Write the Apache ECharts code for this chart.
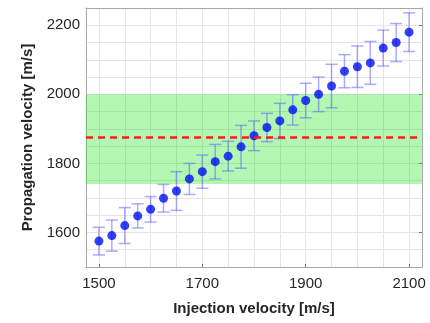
<!DOCTYPE html>
<html>
<head>
<meta charset="utf-8">
<script src="https://cdn.jsdelivr.net/npm/echarts@6/dist/echarts.min.js"></script>
<style>
  html, body { margin: 0; padding: 0; background: #fff; }
  #chart { width: 430px; height: 323px; }
</style>
</head>
<body>
<div id="chart"></div>
<script>
// Injection velocity (x) and measured propagation velocity (mean, half spread)
const injection = [1500, 1525, 1550, 1575, 1600, 1625, 1650, 1675, 1700, 1725, 1750, 1775, 1800,
                   1825, 1850, 1875, 1900, 1925, 1950, 1975, 2000, 2025, 2050, 2075, 2100];
const propagation = [1575, 1591, 1620, 1648, 1667, 1699, 1720, 1755, 1776, 1805, 1821, 1848, 1880,
                     1904, 1923, 1955, 1982, 2000, 2024, 2067, 2080, 2091, 2134, 2150, 2180];
const spread = [40, 45, 52, 35, 37, 40, 56, 45, 48, 50, 43, 62, 43,
                41, 51, 44, 50, 50, 63, 48, 60, 62, 52, 55, 56];

// Reference band and reference level
const bandLow = 1740;
const bandHigh = 2000;
const refLevel = 1875;

// Axis ranges and tick labels
const xRange = [1475, 2125];
const yRange = [1500, 2250];
const xLabels = [1500, 1700, 1900, 2100];
const xGrid = [1500, 1550, 1600, 1650, 1700, 1750, 1800, 1850, 1900, 1950, 2000, 2050, 2100];
const yLabels = [1600, 1800, 2000, 2200];

const points = injection.map((x, i) => [x, propagation[i]]);
const bars = injection.map((x, i) => [x, propagation[i] - spread[i], propagation[i] + spread[i]]);

const frameColor = '#a8a8a8';
const gridColor = '#e4e4e4';
const textColor = '#262626';
const font = 'Liberation Sans, Arial, sans-serif';

const chart = echarts.init(document.getElementById('chart'), null, { renderer: 'canvas' });

chart.setOption({
  animation: false,
  backgroundColor: '#fff',
  grid: { left: 86, right: 8, top: 8, bottom: 56, containLabel: false },
  xAxis: [
    {
      type: 'value', min: xRange[0], max: xRange[1],
      name: 'Injection velocity [m/s]', nameLocation: 'middle', nameGap: 34,
      nameTextStyle: { fontFamily: font, fontSize: 15, fontWeight: 'bold', color: textColor },
      axisLine: { show: true, onZero: false, lineStyle: { color: frameColor, width: 1 } },
      axisTick: { show: true, inside: true, length: 3, customValues: xLabels, lineStyle: { color: '#777' } },
      axisLabel: {
        customValues: xLabels, margin: 9, fontFamily: font, fontSize: 15, color: textColor,
        formatter: v => String(v)
      },
      splitLine: { show: false }
    },
    {
      type: 'value', min: xRange[0], max: xRange[1], position: 'top',
      axisLine: { show: true, onZero: false, lineStyle: { color: frameColor, width: 1 } },
      axisTick: { show: false, customValues: xGrid },
      axisLabel: { show: false },
      splitLine: { show: true, lineStyle: { color: gridColor, width: 1 } }
    }
  ],
  yAxis: [
    {
      type: 'value', min: yRange[0], max: yRange[1], interval: 50,
      name: 'Propagation velocity [m/s]', nameLocation: 'middle', nameGap: 50,
      nameTextStyle: { fontFamily: font, fontSize: 15, fontWeight: 'bold', color: textColor },
      axisLine: { show: true, onZero: false, lineStyle: { color: frameColor, width: 1 } },
      axisTick: { show: false },
      axisLabel: {
        margin: 6, fontFamily: font, fontSize: 15, color: textColor,
        formatter: v => (yLabels.indexOf(v) >= 0 ? String(v) : '')
      },
      splitLine: { show: true, lineStyle: { color: gridColor, width: 1 } }
    },
    {
      type: 'value', min: yRange[0], max: yRange[1], position: 'right',
      axisLine: { show: true, onZero: false, lineStyle: { color: frameColor, width: 1 } },
      axisTick: { show: true, inside: true, length: 3, customValues: yLabels, lineStyle: { color: '#777' } },
      axisLabel: { show: false },
      splitLine: { show: false }
    }
  ],
  series: [
    {
      // shaded band plus dashed reference line
      type: 'line', data: [], xAxisIndex: 0, yAxisIndex: 0, silent: true,
      markArea: {
        silent: true,
        itemStyle: { color: 'rgba(0, 230, 0, 0.3)' },
        data: [[{ xAxis: xRange[0], yAxis: bandLow }, { xAxis: xRange[1], yAxis: bandHigh }]]
      },
      markLine: {
        silent: true, symbol: 'none', label: { show: false },
        lineStyle: { color: '#ff1a1a', width: 2.5, type: [7, 5] },
        data: [{ yAxis: refLevel }]
      }
    },
    {
      type: 'custom', xAxisIndex: 0, yAxisIndex: 0, silent: true,
      data: bars,
      encode: { x: 0, y: [1, 2] },
      renderItem: (params, api) => {
        const x = api.value(0);
        const top = api.coord([x, api.value(2)]);
        const bot = api.coord([x, api.value(1)]);
        const hw = 6;
        const style = { stroke: 'rgba(90, 90, 255, 0.5)', lineWidth: 1.5, fill: null };
        return {
          type: 'group',
          children: [
            { type: 'line', shape: { x1: top[0], y1: top[1], x2: bot[0], y2: bot[1] }, style },
            { type: 'line', shape: { x1: top[0] - hw, y1: top[1], x2: top[0] + hw, y2: top[1] }, style },
            { type: 'line', shape: { x1: bot[0] - hw, y1: bot[1], x2: bot[0] + hw, y2: bot[1] }, style }
          ]
        };
      }
    },
    {
      type: 'scatter', xAxisIndex: 0, yAxisIndex: 0, silent: true,
      data: points, symbol: 'circle', symbolSize: 9,
      itemStyle: { color: '#0010f0' }
    }
  ]
});
</script>
</body>
</html>
